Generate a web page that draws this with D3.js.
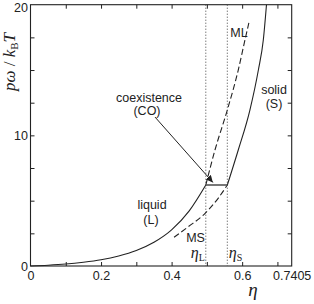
<!DOCTYPE html>
<html>
<head>
<meta charset="utf-8">
<script src="https://cdn.jsdelivr.net/npm/d3@7"></script>
<style>
	body { margin: 0; background: #fff; }
	svg { display: block; font-family: 'Liberation Sans', Arial, sans-serif; }
	.serif { font-family: 'Liberation Serif', 'Times New Roman', serif; }
</style>
</head>
<body>
<svg id="chart" width="314" height="304"></svg>
<script>
// stable liquid branch (L)
const liqEta = [0, 0.05, 0.1, 0.15, 0.2, 0.25, 0.3, 0.35, 0.4, 0.45, 0.497];
const liqP = [0, 0.06, 0.15, 0.29, 0.48, 0.77, 1.19, 1.82, 2.77, 4.22, 6.2];
// metastable liquid (ML)
const mlEta = [0.497, 0.523, 0.558, 0.589, 0.608, 0.619];
const mlP = [6.2, 8.88, 11.94, 15.0, 17.3, 18.6];
// metastable solid (MS)
const msEta = [0.407, 0.447, 0.495, 0.532, 0.558];
const msP = [2.2, 3.0, 4.03, 5.18, 6.2];
// stable solid (S)
const solEta = [0.558, 0.589, 0.622, 0.646, 0.66, 0.669];
const solP = [6.2, 8.88, 11.94, 15.0, 17.3, 20];

const etaL = 0.497;
const etaS = 0.558;
const pCoex = 6.2;

const xTicks = [0.1, 0.2, 0.3, 0.4, 0.5, 0.6, 0.7];
const xLabels = [0, 0.2, 0.4, 0.6, 0.7405];
const yTicks = [2.5, 5, 7.5, 10, 12.5, 15, 17.5];
const yLabels = [0, 10, 20];

const ink = '#222';

const svg = d3.select('#chart');
const x = d3.scaleLinear().domain([0, 0.7405]).range([30.5, 291.7]);
const y = d3.scaleLinear().domain([0, 20]).range([266, 4.7]);

const zip = (a, b) => a.map((d, i) => [d, b[i]]);
const line = d3.line()
	.x(d => x(d[0]))
	.y(d => y(d[1]))
	.curve(d3.curveMonotoneX);

// ticks, all pointing inward
function tickAxis(axis, tr) {
	const g = svg.append('g').attr('transform', tr).call(axis);
	g.select('.domain').remove();
	g.selectAll('line').attr('stroke', ink);
	return g;
}
tickAxis(d3.axisBottom(x).tickValues(xTicks).tickSize(-4).tickFormat(''), `translate(0,${y(0)})`);
tickAxis(d3.axisTop(x).tickValues(xTicks).tickSize(-4).tickFormat(''), `translate(0,${y(20)})`);
tickAxis(d3.axisLeft(y).tickValues(yTicks).tickSize(-4).tickFormat(''), `translate(${x(0)},0)`);
tickAxis(d3.axisRight(y).tickValues(yTicks).tickSize(-4).tickFormat(''), `translate(${x(0.7405)},0)`);

// tick labels
const xl = svg.append('g').attr('transform', `translate(0,${y(0)})`)
	.call(d3.axisBottom(x).tickValues(xLabels).tickSize(0).tickPadding(5).tickFormat(d => String(d)));
xl.select('.domain').remove();
xl.selectAll('text').attr('font-size', 12.5).attr('fill', ink).attr('font-family', null);

const yl = svg.append('g').attr('transform', `translate(${x(0)},0)`)
	.call(d3.axisLeft(y).tickValues(yLabels).tickSize(0).tickPadding(2.5));
yl.select('.domain').remove();
yl.selectAll('text').attr('font-size', 12.5).attr('fill', ink).attr('font-family', null);
yl.selectAll('.tick').filter(d => d === 20).select('text').attr('dy', '0.55em');

// frame
svg.append('rect')
	.attr('x', x(0)).attr('y', y(20))
	.attr('width', x(0.7405) - x(0)).attr('height', y(0) - y(20))
	.attr('fill', 'none').attr('stroke', ink).attr('stroke-width', 1.1);

// dotted guides at eta_L and eta_S
svg.selectAll('.guide')
	.data([etaL, etaS])
	.enter()
	.append('line')
	.attr('x1', d => x(d)).attr('x2', d => x(d))
	.attr('y1', y(20)).attr('y2', y(0))
	.attr('stroke', '#444').attr('stroke-width', 1)
	.attr('stroke-dasharray', '1,2');

// curves
const curves = [
	{ pts: zip(liqEta, liqP), dash: null },
	{ pts: zip(mlEta, mlP), dash: '6,3' },
	{ pts: zip(msEta, msP), dash: '6,3' },
	{ pts: zip(solEta, solP), dash: null }
];
svg.selectAll('.curve')
	.data(curves)
	.enter()
	.append('path')
	.attr('d', d => line(d.pts))
	.attr('fill', 'none')
	.attr('stroke', ink)
	.attr('stroke-width', 1.1)
	.attr('stroke-dasharray', d => d.dash);

// coexistence tie line
svg.append('line')
	.attr('x1', x(etaL)).attr('x2', x(etaS))
	.attr('y1', y(pCoex)).attr('y2', y(pCoex))
	.attr('stroke', '#555').attr('stroke-width', 1.6);

// arrow
svg.append('defs').append('marker')
	.attr('id', 'arr')
	.attr('viewBox', '0 0 10 10')
	.attr('refX', 10).attr('refY', 5)
	.attr('markerWidth', 7).attr('markerHeight', 7)
	.attr('markerUnits', 'userSpaceOnUse')
	.attr('orient', 'auto')
	.append('path')
	.attr('d', 'M0,0L10,5L0,10z')
	.attr('fill', ink);

svg.append('line')
	.attr('x1', x(0.353)).attr('y1', y(11.4))
	.attr('x2', x(0.517)).attr('y2', y(6.4))
	.attr('stroke', ink).attr('stroke-width', 1)
	.attr('marker-end', 'url(#arr)');

// region labels
const labels = [
	{ t: 'coexistence', cx: 149, by: 102 },
	{ t: '(CO)', cx: 147, by: 115 },
	{ t: 'solid', cx: 274, by: 94 },
	{ t: '(S)', cx: 274, by: 108 },
	{ t: 'liquid', cx: 152, by: 209 },
	{ t: '(L)', cx: 151, by: 224 },
	{ t: 'ML', cx: 239, by: 37 },
	{ t: 'MS', cx: 195.5, by: 241.5 }
];
svg.selectAll('.lbl')
	.data(labels)
	.enter()
	.append('text')
	.attr('x', d => d.cx)
	.attr('y', d => d.by)
	.attr('text-anchor', 'middle')
	.attr('font-size', 12.5)
	.attr('fill', ink)
	.text(d => d.t);

// eta_L, eta_S markers
[[etaL, 'L', -1], [etaS, 'S', 1]].forEach(([v, sub, side]) => {
	const t = svg.append('text')
		.attr('class', 'serif')
		.attr('x', side < 0 ? x(v) - 1 : x(v) + 1.5)
		.attr('y', 257.5)
		.attr('text-anchor', side < 0 ? 'end' : 'start')
		.attr('font-size', 16)
		.attr('fill', ink);
	t.append('tspan').attr('font-style', 'italic').text('η');
	t.append('tspan').attr('font-size', 10).attr('dy', 3).text(sub);
});

// axis titles
svg.append('text')
	.attr('class', 'serif')
	.attr('x', 253).attr('y', 296)
	.attr('text-anchor', 'middle')
	.attr('font-size', 19)
	.attr('font-style', 'italic')
	.attr('fill', ink)
	.text('η');

const yt = svg.append('text')
	.attr('class', 'serif')
	.attr('transform', 'translate(15,62) rotate(-90)')
	.attr('text-anchor', 'middle')
	.attr('font-size', 17)
	.attr('fill', ink);
yt.append('tspan').attr('font-style', 'italic').text('pω');
yt.append('tspan').text(' / ');
yt.append('tspan').attr('font-style', 'italic').text('k');
yt.append('tspan').attr('font-size', 11).attr('dy', 3).text('B');
yt.append('tspan').attr('font-style', 'italic').attr('dy', -3).text('T');
</script>
</body>
</html>
